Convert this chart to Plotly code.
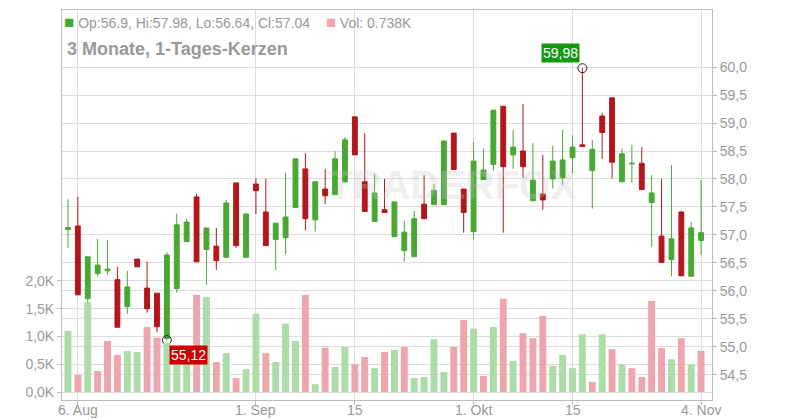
import plotly.graph_objects as go

# daily candles, index 0 = 5 Aug
opens = [57.10, 57.16, 55.86, 56.31, 56.36, 56.20, 55.72, 56.57, 56.05, 55.96,
         55.15, 56.04, 56.88, 57.68, 56.74, 56.80, 56.60, 57.93, 56.60, 57.91,
         57.41, 56.92, 56.95, 57.49, 58.18, 57.27, 57.82, 57.72, 57.95, 59.11,
         57.95, 57.24, 57.45, 56.97, 56.72, 56.61, 57.55, 57.54, 57.54, 58.82,
         57.82, 57.06, 57.99, 58.26, 59.30, 58.43, 58.50, 57.61, 57.73, 58.00,
         58.02, 58.38, 58.61, 58.15, 59.125, 59.45, 57.95, 58.27, 58.28, 57.58,
         56.98, 56.56, 57.41, 56.26, 56.90]
highs = [57.64, 57.68, 56.61, 56.93, 56.91, 56.43, 56.36, 56.57, 56.52, 55.96,
         56.69, 57.38, 57.29, 57.74, 57.13, 57.125, 57.625, 57.93, 57.375, 58.01,
         58.00, 57.21, 58.11, 58.36, 58.46, 57.95, 58.18, 58.50, 58.75, 59.11,
         58.82, 58.09, 58.00, 57.59, 57.25, 57.43, 58.07, 57.91, 58.68, 58.82,
         57.82, 58.66, 58.54, 59.23, 59.30, 58.875, 59.34, 58.64, 58.43, 58.59,
         58.875, 58.78, 59.98, 58.70, 59.18, 59.45, 58.54, 58.61, 58.57, 58.07,
         58.00, 58.25, 57.43, 57.23, 57.98]
lows = [56.77, 55.93, 55.41, 56.26, 56.29, 55.35, 55.59, 56.43, 55.61, 55.26,
        55.12, 55.97, 56.88, 56.52, 56.11, 56.375, 56.60, 56.77, 56.60, 57.375,
        56.81, 56.375, 56.65, 57.49, 57.08, 57.06, 57.55, 57.72, 57.93, 58.43,
        57.42, 57.24, 57.40, 56.97, 56.52, 56.61, 57.29, 57.54, 57.54, 58.17,
        57.04, 56.92, 57.99, 58.15, 57.04, 58.18, 58.02, 57.61, 57.45, 57.83,
        57.89, 58.10, 58.58, 57.47, 58.36, 58.01, 57.95, 57.93, 57.81, 56.79,
        56.51, 56.26, 56.27, 56.26, 56.64]
closes = [57.13, 55.93, 56.61, 56.46, 56.39, 55.35, 56.07, 56.43, 55.68, 55.36,
          56.64, 57.18, 57.23, 56.52, 57.125, 56.54, 57.57, 56.81, 57.375, 57.79,
          56.81, 57.21, 57.32, 58.36, 57.29, 57.95, 57.70, 58.36, 58.70, 58.43,
          57.42, 57.75, 57.40, 57.59, 57.05, 57.29, 57.29, 57.80, 58.68, 58.17,
          57.40, 58.32, 58.16, 59.23, 58.22, 58.57, 58.22, 57.98, 57.625, 58.32,
          58.34, 58.57, 58.58, 58.53, 58.83, 58.30, 58.45, 58.28, 57.81, 57.75,
          56.51, 56.93, 56.27, 57.125, 57.04]
volumes_k = [1.10, 0.31, 1.62, 0.38, 0.92, 0.67, 0.74, 0.72, 1.17, 0.98,
             0.88, 0.62, 0.60, 1.75, 1.71, 0.54, 0.70, 0.25, 0.41, 1.41,
             0.70, 0.54, 1.23, 0.92, 1.75, 0.14, 0.80, 0.45, 0.81, 0.50,
             0.63, 0.43, 0.72, 0.76, 0.81, 0.25, 0.27, 0.95, 0.36, 0.81,
             1.30, 1.14, 0.29, 1.17, 1.68, 0.56, 1.06, 0.97, 1.37, 0.47,
             0.67, 0.43, 1.04, 0.18, 1.04, 0.77, 0.50, 0.43, 0.27, 1.64,
             0.79, 0.59, 0.97, 0.50, 0.74]
tick_pos = [1, 19, 29, 41, 51, 64]
tick_text = ["6. Aug", "1. Sep", "15", "1. Okt", "15", "4. Nov"]
price_ticks = [54.5, 55.0, 55.5, 56.0, 56.5, 57.0, 57.5, 58.0, 58.5, 59.0, 59.5, 60.0]
vol_ticks = [0, 0.5, 1.0, 1.5, 2.0]
vol_text = ["0,0K", "0,5K", "1,0K", "1,5K", "2,0K"]

GREEN = "#47a832"
RED = "#b3161b"
x = list(range(len(closes)))
vol_colors = ["#acdca8" if i == 0 or closes[i] >= closes[i - 1] else "#eea6ae" for i in x]

fig = go.Figure()
fig.add_trace(go.Bar(x=x, y=volumes_k, marker=dict(color=vol_colors, line_width=0),
                     width=0.7, yaxis="y2", hoverinfo="skip"))
fig.add_trace(go.Candlestick(x=x, open=opens, high=highs, low=lows, close=closes,
                             increasing=dict(line=dict(color=GREEN, width=1), fillcolor=GREEN),
                             decreasing=dict(line=dict(color=RED, width=1), fillcolor=RED),
                             whiskerwidth=0))

hi_i = highs.index(max(highs))
lo_i = lows.index(min(lows))
fig.add_trace(go.Scatter(x=[hi_i, lo_i], y=[highs[hi_i], lows[lo_i]], mode="markers",
                         marker=dict(size=9, color="rgba(0,0,0,0)", line=dict(color="#222", width=1))))

fig.add_annotation(x=hi_i, y=highs[hi_i], text="59,98", showarrow=False, yshift=15, xshift=-22,
                   bgcolor="#119911", font=dict(color="white", size=14))
fig.add_annotation(x=lo_i, y=lows[lo_i], text="55,12", showarrow=False, yshift=-15, xshift=22,
                   bgcolor="#cc0000", font=dict(color="white", size=14))

axis_style = dict(gridcolor="#dcdcdc", zeroline=False, showline=True, linecolor="#bbb",
                  ticks="outside", ticklen=4, tickcolor="#bbb", automargin=False)

# the page body adds 8px around the figure, margins compensate for it
fig.update_layout(
    width=800, height=420, showlegend=False,
    margin=dict(l=54, r=96, t=2, b=28),
    plot_bgcolor="white", paper_bgcolor="white",
    separators=",.",
    font=dict(family="Liberation Sans, Arial", color="#999", size=14),
    xaxis=dict(range=[-0.6, 65.1], tickvals=tick_pos, showticklabels=False, rangeslider_visible=False,
               mirror=True, **axis_style),
    yaxis=dict(side="right", range=[54.05, 61.02], tickvals=price_ticks, tickformat=".1f", **axis_style),
    yaxis2=dict(overlaying="y", side="left", range=[-0.144, 6.88], tickvals=vol_ticks, ticktext=vol_text,
                **axis_style),
)

# date labels placed tight under the axis, like the original
for pos, txt in zip(tick_pos, tick_text):
    fig.add_annotation(x=pos, xref="x", y=0, yref="paper", yanchor="top", yshift=0,
                       text=txt, showarrow=False, font=dict(size=14, color="#999"))

fig.add_annotation(xref="paper", yref="paper", x=0.0, y=0.998, xanchor="left", showarrow=False,
                   text="<span style='color:#47a832;font-size:17px'>■</span> Op:56.9, Hi:57.98, Lo:56.64, Cl:57.04"
                        "    <span style='color:#eea6ae;font-size:17px'>■</span> Vol: 0.738K",
                   font=dict(size=14, color="#999"))
fig.add_annotation(xref="paper", yref="paper", x=0.005, y=0.93, xanchor="left", showarrow=False,
                   text="<b>3 Monate, 1-Tages-Kerzen</b>", font=dict(size=18, color="#999"))
fig.add_annotation(xref="paper", yref="paper", x=0.6, y=0.55, showarrow=False,
                   text="<b>TRADERFOX</b>", font=dict(size=40, color="rgba(200,200,200,0.3)"))

fig.write_html("out.html")
